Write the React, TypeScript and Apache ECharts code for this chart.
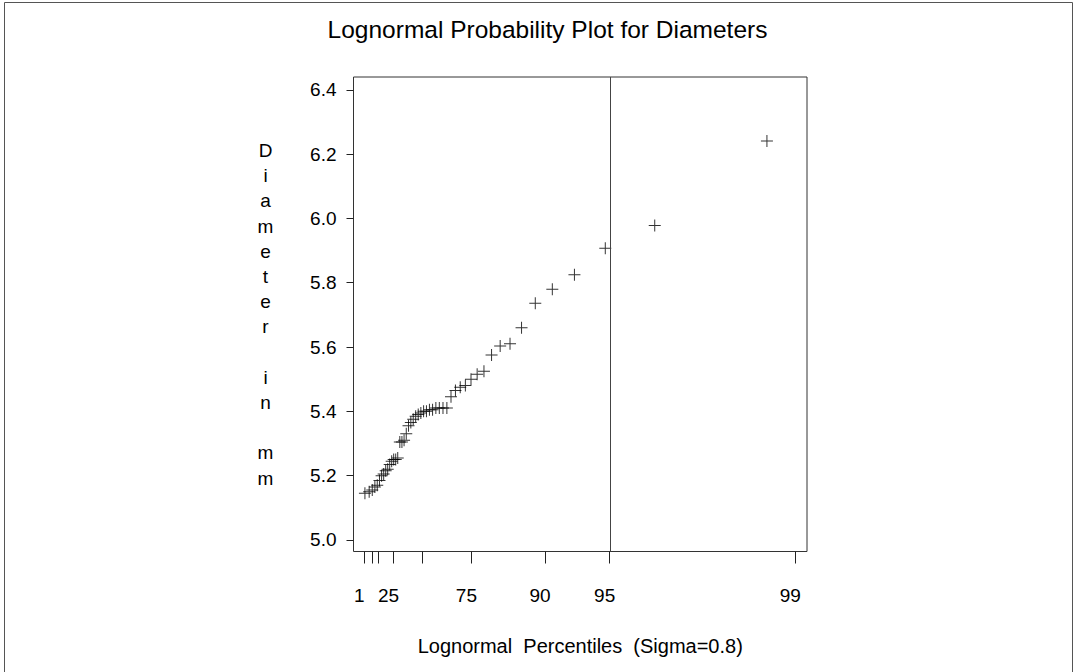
import React, { useEffect, useRef } from "react";
import * as echarts from "echarts";

// Percentile axis: tick percentiles and their positions on the lognormal (sigma = 0.8) quantile scale
const percentTicks = [1, 5, 10, 25, 50, 75, 90, 95, 99];
const percentTickPositions = [0.1555, 0.2681, 0.3587, 0.5829, 1.0, 1.7155, 2.7878, 3.7279, 6.4302];
const labeledPercents = [1, 25, 75, 90, 95, 99];
const referencePercent = 95;

// Y ticks
const yTicks = [5.0, 5.2, 5.4, 5.6, 5.8, 6.0, 6.2, 6.4];

// Points: lognormal quantile (x) and diameter in mm (y)
const quantileX = [
  0.1662, 0.2281, 0.2729, 0.311, 0.3456, 0.378, 0.4089, 0.439, 0.4685, 0.4977,
  0.5267, 0.5557, 0.5848, 0.6142, 0.6438, 0.674, 0.7047, 0.7359, 0.7679, 0.8007,
  0.8343, 0.869, 0.9048, 0.9419, 0.9802, 1.0202, 1.0617, 1.1052, 1.1507, 1.1986,
  1.2489, 1.3023, 1.3589, 1.419, 1.4837, 1.5533, 1.6281, 1.71, 1.7995, 1.8986,
  2.0092, 2.1345, 2.2779, 2.4456, 2.6455, 2.8935, 3.2154, 3.6643, 4.384, 6.0168,
];
const diameters = [
  5.145, 5.15, 5.155, 5.165, 5.17, 5.185, 5.2, 5.205, 5.215, 5.22,
  5.235, 5.245, 5.25, 5.25, 5.255, 5.305, 5.305, 5.31, 5.33, 5.355,
  5.365, 5.375, 5.385, 5.39, 5.395, 5.4, 5.4, 5.405, 5.405, 5.41,
  5.41, 5.41, 5.41, 5.445, 5.465, 5.475, 5.48, 5.5, 5.515, 5.525,
  5.575, 5.603, 5.61, 5.66, 5.736, 5.78, 5.825, 5.907, 5.978, 6.241,
];

const FONT = "'Liberation Sans', Arial, Helvetica, sans-serif";
const yTitle = "Diameter in mm".split("").join("\n");

export default function App() {
  const ref = useRef<HTMLDivElement>(null);
  useEffect(() => {
    document.body.style.margin = "0";
    if (!ref.current) return;
    const chart = echarts.init(ref.current, null, { renderer: "svg" });
    const labelPositions = labeledPercents.map((p) => percentTickPositions[percentTicks.indexOf(p)]);
    const refX = percentTickPositions[percentTicks.indexOf(referencePercent)];
    chart.setOption({
      animation: false,
      backgroundColor: "#fff",
      title: {
        text: "Lognormal Probability Plot for Diameters",
        left: 542.5,
        top: 12,
        textAlign: "center",
        textStyle: { fontFamily: FONT, fontSize: 24.5, fontWeight: "normal", color: "#000" },
      },
      graphic: [
        { type: "line", shape: { x1: 4.5, y1: 2.5, x2: 1072.5, y2: 2.5 }, style: { stroke: "#555", lineWidth: 1 } },
        { type: "line", shape: { x1: 4.5, y1: 2.5, x2: 4.5, y2: 672 }, style: { stroke: "#555", lineWidth: 1 } },
        { type: "line", shape: { x1: 1072.5, y1: 2.5, x2: 1072.5, y2: 672 }, style: { stroke: "#555", lineWidth: 1 } },
      ],
      grid: {
        left: 353.5,
        top: 77,
        width: 453.5,
        height: 474.5,
        show: true,
        borderColor: "#333",
        borderWidth: 1,
        backgroundColor: "transparent",
      },
      xAxis: {
        type: "value",
        min: 0,
        max: 6.6,
        axisLine: { show: false },
        splitLine: { show: false },
        axisTick: {
          show: true,
          inside: false,
          length: 12,
          customValues: percentTickPositions,
          lineStyle: { color: "#222", width: 1 },
        },
        axisLabel: {
          customValues: labelPositions,
          margin: 34,
          fontFamily: FONT,
          fontSize: 19,
          color: "#000",
          padding: [0, 10, 0, 0],
          formatter: (v: number) => {
            let best = 0;
            let bd = Infinity;
            percentTickPositions.forEach((p, i) => {
              const d = Math.abs(p - v);
              if (d < bd) { bd = d; best = i; }
            });
            return String(percentTicks[best]);
          },
        },
        name: "Lognormal  Percentiles  (Sigma=0.8)",
        nameLocation: "middle",
        nameGap: 84,
        nameTextStyle: { fontFamily: FONT, fontSize: 20, color: "#000" },
      },
      yAxis: {
        type: "value",
        min: 4.964,
        max: 6.44,
        axisLine: { show: false },
        splitLine: { show: false },
        axisTick: {
          show: true,
          inside: false,
          length: 7,
          customValues: yTicks,
          lineStyle: { color: "#222", width: 1 },
        },
        axisLabel: {
          customValues: yTicks,
          margin: 17,
          fontFamily: FONT,
          fontSize: 19,
          color: "#000",
          formatter: (v: number) => v.toFixed(1),
        },
        name: yTitle,
        nameLocation: "middle",
        nameRotate: 0,
        nameGap: 88,
        nameTextStyle: { fontFamily: FONT, fontSize: 19, color: "#000", lineHeight: 25.2, align: "center" },
      },
      series: [
        {
          type: "scatter",
          data: quantileX.map((x, i) => [x, diameters[i]]),
          symbol: "path://M0,5.5h12v1h-12z M5.5,0h1v12h-1z",
          symbolSize: 12,
          itemStyle: { color: "#000" },
          silent: true,
          markLine: {
            silent: true,
            symbol: ["none", "none"],
            label: { show: false },
            lineStyle: { color: "#444", width: 1, type: "solid" },
            data: [{ xAxis: refX }],
          },
        },
      ],
    });
    return () => chart.dispose();
  }, []);
  return <div ref={ref} style={{ width: 1074, height: 672 }} />;
}
